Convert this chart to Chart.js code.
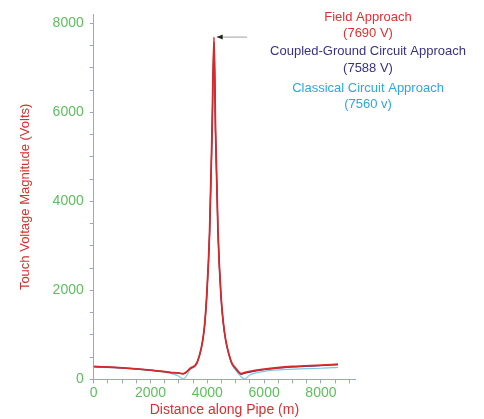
<!DOCTYPE html>
<html><head><meta charset="utf-8">
<script src="https://cdn.jsdelivr.net/npm/chart.js@4"></script>
<style>body{margin:0;background:#fff}#w{width:484px;height:419px}</style>
</head><body><div id="w"><canvas id="c"></canvas></div>
<script>
const distX = [0,1000,2000,2500,2800,3000,3150,3400,3650,3880,3980,4080,4165,4235,4290,4375,4480,4600,4840,5000,5190,5300,5500,6000,7000,8000,8600];
const fieldV = [290,260,210,175,150,140,130,250,400,1080,1900,3325,5570,7690,5570,3325,1900,1080,400,250,130,150,180,230,290,320,340];
const coupledV = [290,260,210,175,150,140,125,245,395,1070,1880,3300,5500,7588,5500,3300,1880,1070,395,240,115,135,165,220,280,310,330];
const classicV = [280,250,200,165,120,70,10,220,380,1060,1870,3290,5480,7560,5480,3290,1870,1060,380,200,60,10,100,180,230,250,270];
const xTicks = [0,2000,4000,6000,8000];
const yTicks = [0,2000,4000,6000,8000];
const labels = [
  {t:'Field Approach', c:'#e0302e', py:17},
  {t:'(7690 V)', c:'#e0302e', py:33},
  {t:'Coupled-Ground Circuit Approach', c:'#3a3280', py:51},
  {t:'(7588 V)', c:'#3a3280', py:68},
  {t:'Classical Circuit Approach', c:'#2aa8e0', py:88},
  {t:'(7560 v)', c:'#2aa8e0', py:104}
];
const pts = v => distX.map((x,i)=>({x, y:v[i]}));
const isTick = (v, arr) => arr.some(t => Math.abs(t - v) < 1e-6);
const ann = {id:'ann', afterDraw(ch){
  const {ctx, scales:{x,y}} = ch;
  ctx.save();
  ctx.font = '13px "Liberation Sans", Arial, sans-serif';
  ctx.textAlign='center'; ctx.textBaseline='middle';
  labels.forEach(l=>{ctx.fillStyle=l.c; ctx.fillText(l.t, 368, l.py);});
  const ay = y.getPixelForValue(7690);
  const x0 = x.getPixelForValue(4330), x1 = x.getPixelForValue(5400);
  ctx.strokeStyle='#888'; ctx.lineWidth=0.8;
  ctx.beginPath(); ctx.moveTo(x1,ay); ctx.lineTo(x0,ay); ctx.stroke();
  ctx.fillStyle='#222'; ctx.beginPath(); ctx.moveTo(x0,ay); ctx.lineTo(x0+6,ay-2.5); ctx.lineTo(x0+6,ay+2.5); ctx.fill();
  ctx.restore();
}};
const tickFont = {size:14, family:'"Liberation Sans", Arial'};
new Chart(document.getElementById('c'), {
  type:'line',
  data:{datasets:[
    {data:pts(fieldV), borderColor:'#d82828', borderWidth:1.8, pointRadius:0, cubicInterpolationMode:'monotone'},
    {data:pts(coupledV), borderColor:'#3a3280', borderWidth:1.2, pointRadius:0, cubicInterpolationMode:'monotone'},
    {data:pts(classicV), borderColor:'#7cc8e8', borderWidth:1.2, pointRadius:0, cubicInterpolationMode:'monotone'}
  ]},
  plugins:[ann],
  options:{
    responsive:true, maintainAspectRatio:false, animation:false,
    layout:{padding:{top:6,right:129,left:14,bottom:0}},
    plugins:{legend:{display:false}, tooltip:{enabled:false}},
    scales:{
      x:{type:'linear', min:0, max:9200,
        afterBuildTicks: s => { s.ticks = []; for (let v=0; v<=9200; v+=500) s.ticks.push({value:v}); },
        ticks:{autoSkip:false, maxRotation:0, color:'#5cbf5c', font:tickFont, padding:1,
          callback:v=>isTick(v,xTicks)?String(v):''},
        grid:{drawOnChartArea:false, tickLength:4, color:'#9aa6c8'},
        border:{color:'#9aa6c8'},
        title:{display:true, text:'Distance along Pipe (m)', color:'#d83030', font:{size:14, family:'"Liberation Sans", Arial'}, padding:{top:0,bottom:0}}
      },
      y:{min:0, max:8200,
        afterBuildTicks: s => { s.ticks = []; for (let v=0; v<=8000; v+=500) s.ticks.push({value:v}); },
        ticks:{autoSkip:false, color:'#5cbf5c', font:tickFont, padding:6,
          callback:v=>isTick(v,yTicks)?String(v):''},
        grid:{drawOnChartArea:false, tickLength:4, color:'#9aa6c8'},
        border:{color:'#9aa6c8'},
        title:{display:true, text:'Touch Voltage Magnitude (Volts)', color:'#d83030', font:{size:13, family:'"Liberation Sans", Arial'}, padding:{bottom:13}}
      }
    }
  }
});
</script></body></html>
